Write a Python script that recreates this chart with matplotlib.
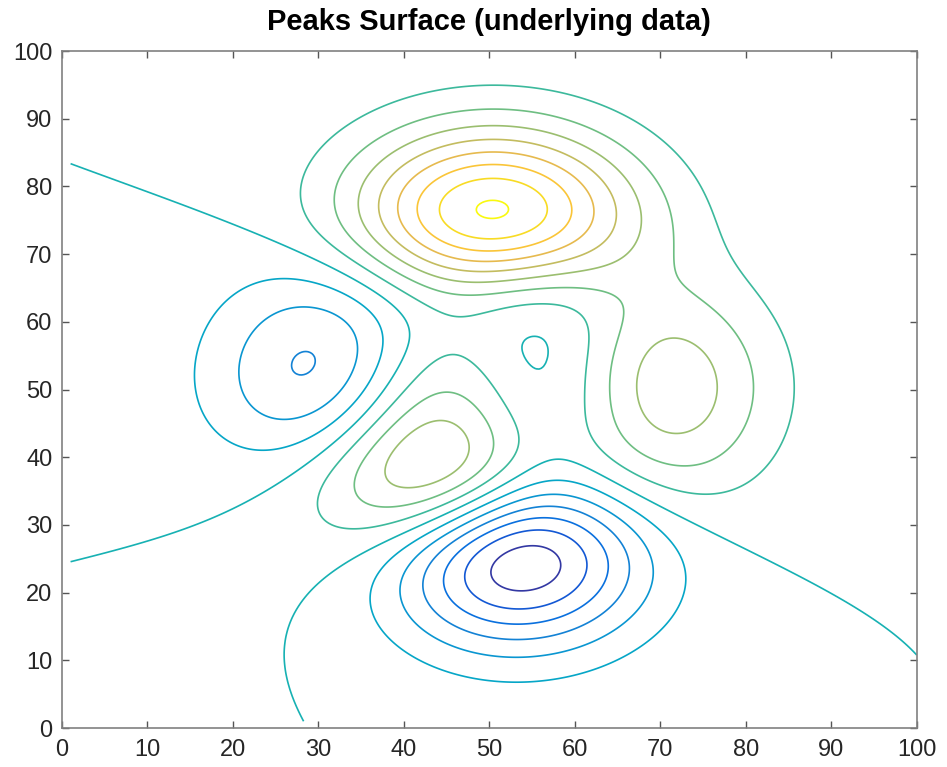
import numpy as np
import matplotlib
matplotlib.use("Agg")
import matplotlib.pyplot as plt
from matplotlib.colors import LinearSegmentedColormap, Normalize

# MATLAB peaks surface, index axis 1..100 (sampled finely for smooth rings)
n = 100
fine = 400
u = np.linspace(-3, 3, fine)
X, Y = np.meshgrid(u, u)
Z = (3 * (1 - X)**2 * np.exp(-X**2 - (Y + 1)**2)
     - 10 * (X / 5 - X**3 - Y**5) * np.exp(-X**2 - Y**2)
     - 1 / 3 * np.exp(-(X + 1)**2 - Y**2))

cols = np.linspace(1, n, fine)
rows = np.linspace(1, n, fine)
levels = [-6, -5, -4, -3, -2, -1, 0, 1, 2, 3, 4, 5, 6, 7, 8]
ticks = [0, 10, 20, 30, 40, 50, 60, 70, 80, 90, 100]

# parula, rows 0,4,8,...,60,63 of the 64-colour map
parula_rows = [0, 4, 8, 12, 16, 20, 24, 28, 32, 36, 40, 44, 48, 52, 56, 60, 63]
parula_rgb = [
    (0.2081, 0.1663, 0.5292),
    (0.1959, 0.2645, 0.7279),
    (0.0117, 0.3875, 0.8820),
    (0.0498, 0.4586, 0.8641),
    (0.0793, 0.5200, 0.8312),
    (0.0343, 0.5966, 0.8199),
    (0.0228, 0.6535, 0.7768),
    (0.0843, 0.6928, 0.7062),
    (0.2178, 0.7250, 0.6193),
    (0.3953, 0.7459, 0.5244),
    (0.5709, 0.7485, 0.4494),
    (0.7184, 0.7411, 0.3905),
    (0.8507, 0.7299, 0.3360),
    (0.9739, 0.7314, 0.2666),
    (0.9880, 0.8066, 0.1794),
    (0.9589, 0.8949, 0.1132),
    (0.9763, 0.9831, 0.0538),
]
parula = LinearSegmentedColormap.from_list(
    "parula", [(r / 63, c) for r, c in zip(parula_rows, parula_rgb)])

plt.rcParams['font.family'] = ['Liberation Sans', 'DejaVu Sans']

fig = plt.figure(figsize=(9.47, 7.67), dpi=100)
ax = fig.add_axes([0.0655, 0.0508, 0.9025, 0.8827])
ax.contour(cols, rows, Z, levels=levels, cmap=parula,
           norm=Normalize(Z.min(), Z.max()), linewidths=1.2)

ax.set_xlim(0, 100)
ax.set_ylim(0, 100)
ax.set_xticks(ticks)
ax.set_yticks(ticks)
ax.tick_params(direction='in', length=5, width=1, color='#555555',
               labelsize=17, labelcolor='#262626', top=True, right=True)
ax.tick_params(axis='x', pad=8)
ax.tick_params(axis='y', pad=7)
for s in ax.spines.values():
    s.set_color('#808080')
    s.set_linewidth(1.2)
ax.set_title("Peaks Surface (underlying data)", fontsize=21, fontweight='bold', pad=15)

fig.savefig("out.png", dpi=100)
